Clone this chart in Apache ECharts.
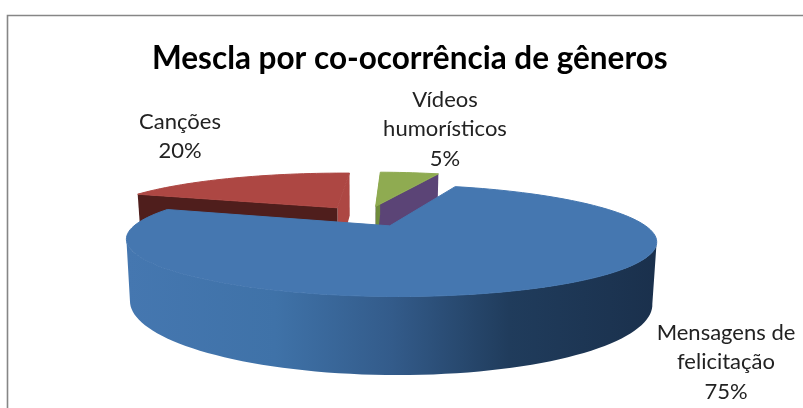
<!DOCTYPE html>
<html>
<head>
<meta charset="utf-8">
<style>
  html, body { margin: 0; padding: 0; background: #fff; }
  #main { width: 803px; height: 408px; }
</style>
</head>
<body>
<div id="main"></div>
<script src="https://cdn.jsdelivr.net/npm/echarts@6/dist/echarts.min.js"></script>
<script>
var categories = ['Mensagens de\nfelicitação', 'Canções', 'Vídeos\nhumorísticos'];
var values = [75, 20, 5];

var titleText = 'Mescla por co-ocorrência de gêneros';
var labelFont = '22px Lato';
var labelAt = [[726, 318], [180, 107], [445, 85]];

// fake 3d pie: circle in world units, projected with a bit of perspective
var view = { cx: 366, cy: 216, rx: 243, ry: 47, k: 0.25, depth: 55, explode: 0.22, start: 20 };
var colors = [
    { top: '#4577b0' },
    { top: '#ad4743', left: '#ad4743', right: '#4f1e1c' },
    { top: '#8fab51', left: '#5b4476', right: '#6f8c3c' }
];

var total = values.reduce(function (a, b) { return a + b; }, 0);

function project (u, v, drop) {
    var s = 1 + view.k * v;
    var shrink = drop ? 0.985 : 1;
    return [
        view.cx + view.rx * shrink * u / s,
        view.cy - view.ry * v / s + (drop ? view.depth / s : 0)
    ];
}

function slicePoints (a0, a1) {
    var mid = (a0 + a1) / 2 * Math.PI / 180;
    var ou = view.explode * Math.sin(mid);
    var ov = view.explode * Math.cos(mid);
    var arc = [], arcLow = [];
    for (var a = a0; a <= a1 + 0.001; a += 2) {
        var r = a * Math.PI / 180;
        arc.push(project(ou + Math.sin(r), ov + Math.cos(r), false));
        arcLow.push(project(ou + Math.sin(r), ov + Math.cos(r), true));
    }
    return { arc: arc, arcLow: arcLow, apex: project(ou, ov, false), apexLow: project(ou, ov, true) };
}

function renderSlice (params, api) {
    var idx = params.dataIndex;
    var before = 0;
    for (var i = 0; i < idx; i++) before += values[i];
    var a0 = view.start + before / total * 360;
    var a1 = a0 + api.value(0) / total * 360;
    var p = slicePoints(a0, a1);
    var col = colors[idx];
    var z = idx === 0 ? 10 : 1;
    var kids = [];

    if (idx === 0) {
        // only the front of the outer wall shows, from widest point to widest point
        var iMax = 0, iMin = 0;
        p.arc.forEach(function (pt, i) {
            if (pt[0] > p.arc[iMax][0]) iMax = i;
            if (pt[0] < p.arc[iMin][0]) iMin = i;
        });
        var wall = p.arc.slice(iMax, iMin + 1).concat(p.arcLow.slice(iMax, iMin + 1).reverse());
        kids.push({
            type: 'polygon', z2: z,
            shape: { points: wall },
            style: {
                fill: new echarts.graphic.LinearGradient(127, 0, 658, 0, [
                    { offset: 0, color: '#4577b0' },
                    { offset: 0.28, color: '#3f72a8' },
                    { offset: 0.5, color: '#335b8a' },
                    { offset: 0.72, color: '#203c5c' },
                    { offset: 1, color: '#1a304c' }
                ], true)
            }
        });
    } else {
        var n = p.arc.length - 1;
        kids.push({
            type: 'polygon', z2: z,
            shape: { points: [p.apex, p.arc[n], p.arcLow[n], p.apexLow] },
            style: { fill: col.left }
        });
        kids.push({
            type: 'polygon', z2: z + 1,
            shape: { points: [p.apex, p.arc[0], p.arcLow[0], p.apexLow] },
            style: { fill: col.right }
        });
    }
    kids.push({
        type: 'polygon', z2: z + 2,
        shape: { points: [p.apex].concat(p.arc) },
        style: { fill: col.top, stroke: col.top, lineWidth: 1 }
    });
    kids.push({
        type: 'text', z2: 20,
        style: {
            text: categories[idx] + '\n' + api.value(0) + '%',
            x: labelAt[idx][0], y: labelAt[idx][1],
            font: labelFont, lineHeight: 29.5,
            fill: '#222', textAlign: 'center', textBaseline: 'top'
        }
    });
    return { type: 'group', children: kids };
}

var chart = echarts.init(document.getElementById('main'), null, { renderer: 'canvas' });
chart.setOption({
    animation: false,
    backgroundColor: '#fff',
    title: {
        text: titleText,
        left: 147, top: 38,
        textStyle: { fontFamily: 'Lato', fontSize: 31.5, fontWeight: 'bold', color: '#000' }
    },
    graphic: [{
        type: 'rect', silent: true,
        shape: { x: 7.5, y: 15.5, width: 820, height: 420 },
        style: { fill: 'none', stroke: '#868686', lineWidth: 1.6 }
    }],
    series: [{
        type: 'custom',
        coordinateSystem: 'none',
        renderItem: renderSlice,
        data: values
    }]
});
</script>
</body>
</html>
